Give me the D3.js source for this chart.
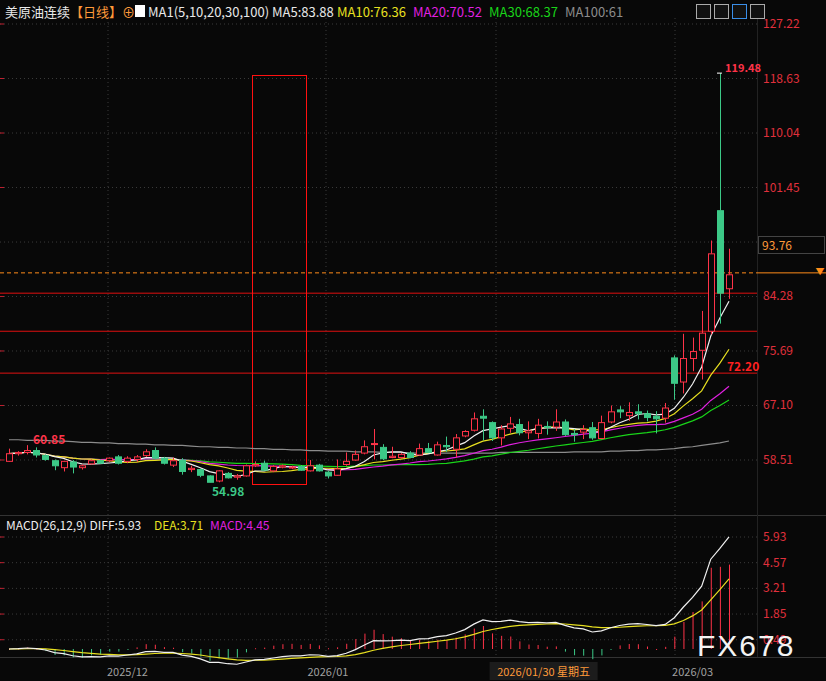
<!DOCTYPE html>
<html><head><meta charset="utf-8">
<script src="https://cdn.jsdelivr.net/npm/d3@7"></script>
<style>body{margin:0;background:#080808;overflow:hidden}svg{display:block;font-family:"Noto Sans CJK SC","Liberation Sans",sans-serif}</style>
</head><body><svg id="c" width="826" height="681"></svg>
<script>
// OHLC, one row per trading day
const opens = [58.3,59.5,59.7,60.0,59.2,58.4,57.3,58.2,57.3,57.9,58.4,58.4,59.0,58.3,58.6,59.2,60.0,58.8,57.7,58.5,
  57.0,57.0,56.0,55.2,56.4,55.8,56.0,57.6,58.0,56.8,57.4,57.3,57.5,56.8,57.7,56.6,56.1,57.8,58.5,59.6,
  61.0,60.5,58.9,58.9,59.6,59.3,60.3,59.3,60.8,60.2,62.3,63.2,65.4,64.4,62.0,63.5,64.1,62.8,62.7,63.8,
  63.7,64.5,62.7,62.9,63.6,61.9,64.5,66.4,65.5,66.1,65.8,65.4,65.1,74.6,70.8,74.5,75.8,78.8,97.8,85.5];
const highs = [60.3,59.9,60.85,60.5,59.4,58.6,58.1,58.5,57.8,58.6,58.6,58.9,59.3,59.1,59.3,60.2,60.5,59.0,58.9,58.8,
  57.6,57.2,56.1,56.9,56.6,56.3,57.8,58.3,58.4,57.7,57.8,57.6,57.7,58.5,57.9,56.8,58.6,59.7,60.0,61.6,
  63.4,61.0,60.6,59.6,59.9,61.1,61.2,61.4,62.2,62.6,63.2,66.0,66.5,64.6,64.0,65.3,65.0,64.6,65.0,64.6,
  66.5,64.9,63.4,64.0,64.5,65.5,67.1,67.0,67.6,67.3,66.3,66.2,67.5,75.0,78.4,77.8,82.0,93.1,119.48,91.8];
const lows = [58.2,59.2,59.4,58.9,58.4,56.9,56.7,56.4,57.0,57.8,57.9,58.2,57.8,58.0,58.2,59.0,58.6,57.8,57.4,56.2,
  56.6,55.8,54.98,55.0,55.6,55.4,55.9,57.4,56.9,56.6,57.2,57.1,56.8,56.7,56.7,55.6,56.0,57.6,58.4,59.4,
  58.6,58.5,58.8,58.7,58.8,59.2,59.6,59.2,59.8,58.9,62.1,63.0,61.6,61.5,60.8,62.8,62.4,61.8,61.9,62.5,
  63.1,62.3,61.4,61.8,61.7,61.8,64.3,65.1,64.7,64.9,64.6,62.7,64.4,68.0,69.0,72.5,71.2,78.3,80.0,83.9];
const closes = [59.5,59.7,60.0,59.3,58.6,57.6,58.3,57.4,57.6,58.4,58.0,58.8,58.0,58.8,59.0,59.8,58.8,58.0,58.4,56.7,
  57.2,56.1,55.0,56.8,55.7,56.0,57.6,57.8,56.9,57.5,57.6,57.4,56.9,57.6,56.8,56.0,57.1,58.3,59.4,60.6,
  61.1,58.7,59.1,59.4,58.9,60.3,59.7,60.9,60.6,62.0,63.0,65.0,65.1,62.0,63.4,64.2,62.8,63.1,64.0,63.7,
  64.5,62.5,62.5,63.3,62.0,64.4,66.1,66.1,66.0,65.8,65.2,65.0,66.7,70.6,74.5,75.6,78.5,91.0,84.8,87.7];
const ma100 = [61.7,61.7,61.6,61.6,61.6,61.5,61.5,61.4,61.3,61.3,61.2,61.2,61.1,61.1,61.0,61.0,60.9,60.9,60.8,60.8,
  60.7,60.6,60.6,60.5,60.5,60.4,60.4,60.3,60.3,60.2,60.2,60.1,60.1,60.0,60.0,59.9,59.9,59.9,59.8,59.8,
  59.8,59.7,59.7,59.7,59.6,59.6,59.6,59.6,59.6,59.6,59.6,59.6,59.6,59.6,59.7,59.7,59.7,59.7,59.7,59.7,
  59.7,59.7,59.8,59.8,59.8,59.8,59.9,59.9,60.0,60.0,60.1,60.1,60.2,60.3,60.5,60.6,60.8,61.0,61.2,61.5];
const dateTicks = [[13, "2025/12"], [35, "2026/01"], [75, "2026/03"]];
const cursorDay = [58, "2026/01/30 星期五"];
const priceTicks = [127.22, 118.63, 110.04, 101.45, 84.28, 75.69, 67.10, 58.51];
const macdTicks = [5.93, 4.57, 3.21, 1.85, 0.49];
const levelLines = [84.8, 78.8, 72.2];
const headerLabels = [["MA1(5,10,20,30,100) MA5:83.88", "#e8e8e8", 148], ["MA10:76.36", "#e8e020", 337],
  ["MA20:70.52", "#e020e0", 413], ["MA30:68.37", "#19d419", 489], ["MA100:61", "#8c8c8c", 565]];
const macdLabels = [["MACD(26,12,9) DIFF:5.93", "#eee", 6], ["DEA:3.71", "#e8e020", 154], ["MACD:4.45", "#e020e0", 210]];

const svg = d3.select("#c");
const W = 757, n = closes.length;
const x = d3.scaleLinear().domain([0, n - 1]).range([9, 729]);
const y = d3.scaleLinear().domain([58.51, 127.22]).range([460, 24]);
const ym = d3.scaleLinear().domain([0, 5.93]).range([649, 537]);
const UP = "#ff3348", DN = "#3cc987";

// moving averages and MACD derived from closes
const ma = k => closes.map((_, i) => d3.mean(closes.slice(Math.max(0, i - k + 1), i + 1)));
const ema = (arr, k) => { const a = 2 / (k + 1); let e = arr[0]; return arr.map(v => (e = a * v + (1 - a) * e)); };
const e12 = ema(closes, 12), e26 = ema(closes, 26);
const diff = e12.map((v, i) => v - e26[i]);
const dea = ema(diff, 9);
const hist = diff.map((v, i) => 2 * (v - dea[i]));

// grid
const grid = svg.append("g").attr("stroke", "#3a3a3a").attr("stroke-dasharray", "1,3");
priceTicks.concat([92.86]).forEach(p => grid.append("line").attr("x1", 0).attr("x2", W).attr("y1", y(p)).attr("y2", y(p)));
macdTicks.forEach(p => grid.append("line").attr("x1", 0).attr("x2", W).attr("y1", ym(p)).attr("y2", ym(p)));
[108, 326, 496, 675].forEach(v => grid.append("line").attr("x1", v).attr("x2", v).attr("y1", 18).attr("y2", 655));
svg.append("line").attr("x1", 0).attr("x2", 826).attr("y1", 515.5).attr("y2", 515.5).attr("stroke", "#333");
svg.append("line").attr("x1", 0).attr("x2", 826).attr("y1", 657.5).attr("y2", 657.5).attr("stroke", "#333");
svg.append("line").attr("x1", 757.5).attr("x2", 757.5).attr("y1", 18).attr("y2", 657).attr("stroke", "#222");
[...priceTicks.map(y), ...macdTicks.map(ym)].forEach(v => svg.append("line").attr("x1", 0).attr("x2", 4).attr("y1", v).attr("y2", v).attr("stroke", "#c02030"));

// level lines and box
levelLines.forEach(p => svg.append("line").attr("x1", 0).attr("x2", W).attr("y1", y(p)).attr("y2", y(p)).attr("stroke", "#e01010"));
svg.append("rect").attr("x", 252.5).attr("y", 75.5).attr("width", 54).attr("height", 409).attr("fill", "none").attr("stroke", "#ff1010");
svg.append("line").attr("x1", 0).attr("x2", W).attr("y1", y(88.0)).attr("y2", y(88.0)).attr("stroke", "#ff8c1a").attr("stroke-dasharray", "4,3");
svg.append("line").attr("x1", W).attr("x2", 826).attr("y1", y(88.0)).attr("y2", y(88.0)).attr("stroke", "#ff8c1a");
svg.append("text").attr("x", 820).attr("y", y(88.0) + 2).attr("fill", "#ff8c1a").attr("font-size", 9).attr("text-anchor", "middle").text("▼");

// MA lines
const line = d3.line().x((_, i) => x(i)).y(d => y(d));
[[ma100, "#8c8c8c"], [ma(30), "#19d419"], [ma(20), "#e020e0"], [ma(10), "#e8e020"], [ma(5), "#f0f0f0"]].forEach(([d, c]) =>
  svg.append("path").attr("d", line(d)).attr("fill", "none").attr("stroke", c).attr("stroke-width", 1.2));

// candles
const cg = svg.append("g");
closes.forEach((c, i) => {
  const o = opens[i], up = c >= o, col = up ? UP : DN, cx = Math.round(x(i)) + 0.5;
  const top = y(Math.max(o, c)), bot = y(Math.min(o, c));
  cg.append("line").attr("x1", cx).attr("x2", cx).attr("y1", y(highs[i])).attr("y2", top).attr("stroke", col);
  cg.append("line").attr("x1", cx).attr("x2", cx).attr("y1", bot).attr("y2", y(lows[i])).attr("stroke", col);
  cg.append("rect").attr("x", cx - 3).attr("y", top).attr("width", 6).attr("height", Math.max(1, bot - top))
    .attr("fill", up ? "#080808" : col).attr("stroke", col);
});

// price annotations
const t = (xx, yy, s, col, sz, extra) => svg.append("text").attr("x", xx).attr("y", yy).attr("fill", col).attr("font-size", sz || 12).text(s).call(e => extra && extra(e));
t(33, 444, "60.85", "#ff3348", 12, e => e.attr("font-weight", "bold"));
t(212, 496, "54.98", "#3cc987", 12, e => e.attr("font-weight", "bold"));
t(725, 72, "119.48", "#ff3348", 11, e => e.attr("font-weight", "bold"));
t(727, 371, "72.20", "#ff2020", 12, e => e.attr("font-weight", "bold"));
svg.append("line").attr("x1", 717).attr("x2", 722).attr("y1", y(119.48)).attr("y2", y(119.48)).attr("stroke", "#fff");

// right axis
priceTicks.forEach(p => t(763, y(p) + 4, p.toFixed(2), "#e0303c", 12));
svg.append("rect").attr("x", 758.5).attr("y", 236.5).attr("width", 66).attr("height", 17).attr("fill", "#080808").attr("stroke", "#444");
t(762, 250, "93.76", "#ff9a3a", 12);

// MACD panel
hist.forEach((h, i) => svg.append("rect").attr("x", x(i)).attr("y", Math.min(ym(h), ym(0))).attr("width", 1)
  .attr("height", Math.max(1, Math.abs(ym(h) - ym(0)))).attr("fill", h >= 0 ? "#ff3348" : "#3cc987"));
const ml = d3.line().x((_, i) => x(i)).y(d => ym(d));
svg.append("path").attr("d", ml(dea)).attr("fill", "none").attr("stroke", "#e8e020").attr("stroke-width", 1.2);
svg.append("path").attr("d", ml(diff)).attr("fill", "none").attr("stroke", "#f0f0f0").attr("stroke-width", 1.2);
macdTicks.forEach(p => t(763, ym(p) + 4, p.toFixed(2), "#e0303c", 12));
macdLabels.forEach(([s, c, xx]) => t(xx, 530, s, c, 12));
t(697, 656, "FX678", "#f4f4f4", 30, e => e.attr("font-family", "Liberation Sans").attr("letter-spacing", 2));

// date axis
dateTicks.forEach(([i, s]) => t(x(i), 676, s, "#a0a0a0", 11, e => e.attr("text-anchor", "middle")));
svg.append("rect").attr("x", x(cursorDay[0]) - 48).attr("y", 662).attr("width", 108).attr("height", 18).attr("fill", "#1c1c1c");
t(x(cursorDay[0]) + 6, 676, cursorDay[1], "#ff9a3a", 11, e => e.attr("text-anchor", "middle"));

// header
const hd = svg.append("text").attr("x", 5).attr("y", 17).attr("font-size", 13);
hd.append("tspan").attr("fill", "#e8e8e8").text("美原油连续");
hd.append("tspan").attr("fill", "#ff9a3a").text("【日线】⊕");
headerLabels.forEach(([s, c, xx]) => t(xx, 17, s, c, 13));
svg.append("rect").attr("x", 135).attr("y", 5).attr("width", 10).attr("height", 12).attr("fill", "#fff");
[696, 714, 732, 750].forEach((v, i) => svg.append("rect").attr("x", v + 0.5).attr("y", 4.5).attr("width", 14).attr("height", 14)
  .attr("fill", "#111").attr("stroke", i === 2 ? "#3a8ee8" : "#aaa"));
</script></body></html>
